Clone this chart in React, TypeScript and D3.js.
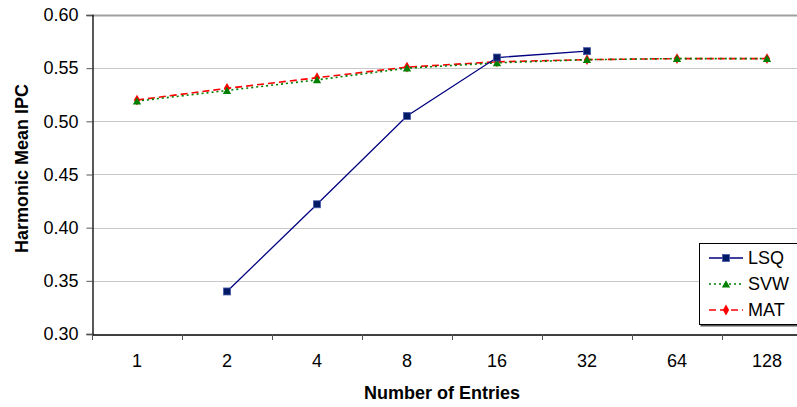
import React, { useRef, useEffect } from 'react';
import * as d3 from 'd3';

const categories = ['1', '2', '4', '8', '16', '32', '64', '128'];
const yTicks = [0.3, 0.35, 0.4, 0.45, 0.5, 0.55, 0.6];

const lsq: (number | null)[] = [null, 0.34, 0.422, 0.505, 0.56, 0.566, null, null];
const svw: (number | null)[] = [0.519, 0.529, 0.539, 0.55, 0.555, 0.558, 0.559, 0.559];
const mat: (number | null)[] = [0.52, 0.531, 0.541, 0.551, 0.556, 0.558, 0.559, 0.559];

const FONT = 'Arial, "Liberation Sans", sans-serif';

function App() {
  const ref = useRef<SVGSVGElement>(null);

  useEffect(() => {
    const svg = d3.select(ref.current);
    svg.selectAll('*').remove();

    const width = 797;
    const height = 407;
    const margin = { top: 15, left: 92, bottom: 73 };
    const plotRight = margin.left + 90 * categories.length;
    const plotBottom = height - margin.bottom;

    const x = d3.scaleBand<string>()
      .domain(categories)
      .range([margin.left, plotRight]);

    const y = d3.scaleLinear()
      .domain([0.3, 0.6])
      .range([plotBottom, margin.top]);

    // grid
    svg.append('g')
      .selectAll('line')
      .data(yTicks.slice(1))
      .join('line')
      .attr('x1', margin.left)
      .attr('x2', plotRight)
      .attr('y1', d => Math.round(y(d)) + 0.5)
      .attr('y2', d => Math.round(y(d)) + 0.5)
      .attr('stroke', d => (d === 0.6 ? '#a0a0a0' : '#c8c8c8'))
      .attr('stroke-width', d => (d === 0.6 ? 2 : 1.2));

    // y axis
    const yAxis = svg.append('g')
      .attr('transform', `translate(${margin.left + 0.5},0)`)
      .call(d3.axisLeft(y).tickValues(yTicks).tickSize(6).tickPadding(8).tickFormat(d3.format('.2f')));
    yAxis.select('.domain').attr('stroke', '#000').attr('stroke-width', 1.3);
    yAxis.selectAll('.tick line').attr('stroke', '#555');
    yAxis.selectAll('text')
      .attr('font-family', FONT)
      .attr('font-size', 18)
      .attr('fill', '#000');

    // x axis
    const xAxis = svg.append('g')
      .attr('transform', `translate(0,${plotBottom + 0.5})`)
      .call(d3.axisBottom(x).tickSize(0).tickPadding(20));
    xAxis.select('.domain').attr('stroke', '#000').attr('stroke-width', 1.3);
    xAxis.selectAll('text')
      .attr('font-family', FONT)
      .attr('font-size', 18)
      .attr('fill', '#000');
    svg.append('g')
      .selectAll('line')
      .data(d3.range(categories.length + 1))
      .join('line')
      .attr('x1', i => margin.left + i * x.bandwidth() + 0.5)
      .attr('x2', i => margin.left + i * x.bandwidth() + 0.5)
      .attr('y1', plotBottom)
      .attr('y2', plotBottom + 6)
      .attr('stroke', '#555');

    // axis titles
    svg.append('text')
      .attr('x', (margin.left + plotRight) / 2 - 10)
      .attr('y', 399)
      .attr('text-anchor', 'middle')
      .attr('font-family', FONT)
      .attr('font-weight', 'bold')
      .attr('font-size', 18)
      .text('Number of Entries');

    svg.append('text')
      .attr('transform', `translate(28,${(margin.top + plotBottom) / 2 - 6}) rotate(-90)`)
      .attr('text-anchor', 'middle')
      .attr('font-family', FONT)
      .attr('font-weight', 'bold')
      .attr('font-size', 18)
      .text('Harmonic Mean IPC');

    const cx = (i: number) => (x(categories[i]) as number) + x.bandwidth() / 2;

    const series = [
      { name: 'LSQ', values: lsq, color: '#000080', dash: null, marker: 'square' },
      { name: 'SVW', values: svw, color: '#008000', dash: '2,3', marker: 'triangle' },
      { name: 'MAT', values: mat, color: '#ff0000', dash: '7,4', marker: 'diamond' },
    ];

    const drawMarker = (g: any, kind: string, color: string, px: number, py: number) => {
      if (kind === 'square') {
        g.append('rect')
          .attr('x', px - 3.5).attr('y', py - 3.5)
          .attr('width', 7).attr('height', 7)
          .attr('fill', '#001a66')
          .attr('stroke', '#4a5aa8')
          .attr('stroke-width', 0.8);
      } else if (kind === 'triangle') {
        g.append('path')
          .attr('d', d3.symbol(d3.symbolTriangle, 30)())
          .attr('transform', `translate(${px},${py + 1})`)
          .attr('fill', color);
      } else {
        g.append('path')
          .attr('d', d3.symbol(d3.symbolDiamond, 34)())
          .attr('transform', `translate(${px},${py})`)
          .attr('fill', color);
      }
    };

    const line = d3.line<[number, number | null]>()
      .defined(d => d[1] !== null)
      .x(d => cx(d[0]))
      .y(d => y(d[1] as number));

    series.slice().reverse().forEach(s => {
      const pts: [number, number | null][] = s.values.map((v, i) => [i, v]);
      svg.append('path')
        .datum(pts)
        .attr('fill', 'none')
        .attr('stroke', s.color)
        .attr('stroke-width', s.marker === 'square' ? 1.3 : 1.6)
        .attr('stroke-dasharray', s.dash)
        .attr('d', line);
    });
    series.slice().reverse().forEach(s => {
      const g = svg.append('g');
      s.values.forEach((v, i) => {
        if (v !== null) drawMarker(g, s.marker, s.color, cx(i), y(v));
      });
    });

    // legend
    const lg = svg.append('g').attr('transform', 'translate(699,243)');
    lg.append('rect')
      .attr('x', 1.5).attr('y', 1.5)
      .attr('width', 120).attr('height', 82)
      .attr('fill', '#555');
    lg.append('rect')
      .attr('x', 0.5).attr('y', 0.5)
      .attr('width', 120).attr('height', 81)
      .attr('fill', '#fff')
      .attr('stroke', '#000')
      .attr('stroke-width', 1);
    series.forEach((s, i) => {
      const ly = 15 + i * 26;
      lg.append('line')
        .attr('x1', 10).attr('x2', 44)
        .attr('y1', ly).attr('y2', ly)
        .attr('stroke', s.color)
        .attr('stroke-width', 1.6)
        .attr('stroke-dasharray', s.dash);
      drawMarker(lg, s.marker, s.color, 27, ly);
      lg.append('text')
        .attr('x', 49)
        .attr('y', ly)
        .attr('dy', '0.36em')
        .attr('font-family', FONT)
        .attr('font-size', 18)
        .text(s.name);
    });
  }, []);

  return (
    <div style={{ position: 'fixed', left: 0, top: 0 }}>
      <svg ref={ref} width={797} height={407} style={{ display: 'block', background: '#fff' }}></svg>
    </div>
  );
}

export default App;
